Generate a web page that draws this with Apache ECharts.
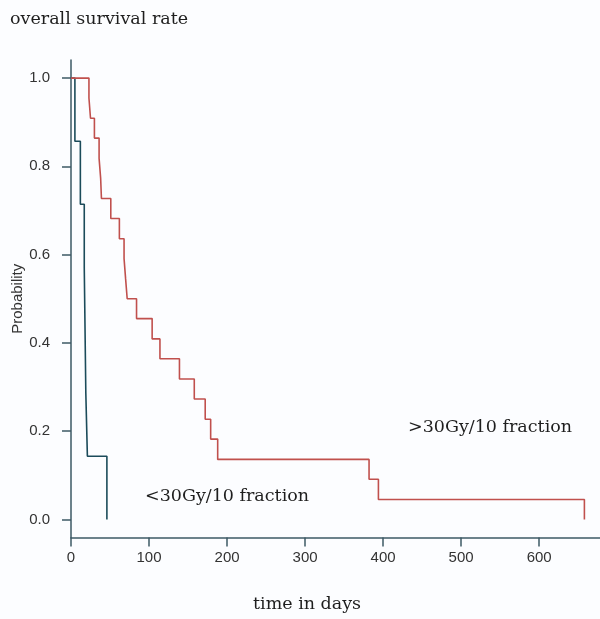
<!DOCTYPE html>
<html lang="en">
<head>
	<meta charset="UTF-8">
	<title>overall survival rate</title>
	<script src="https://cdn.jsdelivr.net/npm/echarts@6/dist/echarts.min.js"></script>
	<style>
		html, body { margin: 0; padding: 0; background: #fcfdff; }
	</style>
</head>
<body>
	<div id="main" style="width: 600px;height:619px;"></div>
	<script type="text/javascript">
		// >30Gy/10 fraction group (red curve)
		var highDays = [0, 23, 25, 30, 36, 38, 39, 51, 62, 68, 70, 72, 84, 104, 114, 139, 158, 172, 179, 188, 382, 394, 658];
		var highSurv = [1, 0.955, 0.909, 0.864, 0.818, 0.773, 0.727, 0.682, 0.636, 0.591, 0.545, 0.5, 0.455, 0.409, 0.364, 0.318, 0.273, 0.227, 0.182, 0.136, 0.091, 0.045, 0];

		// <30Gy/10 fraction group (dark curve)
		var lowDays = [0, 5, 12, 17, 18, 19, 21, 46];
		var lowSurv = [1, 0.857, 0.714, 0.571, 0.429, 0.286, 0.143, 0];

		var xTicks = [0, 100, 200, 300, 400, 500, 600];
		var yTicks = [0, 0.2, 0.4, 0.6, 0.8, 1.0];

		function pairs(xs, ys) {
			var out = [];
			for (var i = 0; i < xs.length; i++) {
				out.push([xs[i], ys[i]]);
			}
			return out;
		}

		var myChart = echarts.init(document.getElementById('main'));

		var axisColor = '#3d5965';
		var serif = '"DejaVu Serif", serif';
		var sans = '"Liberation Sans", Arial, sans-serif';

		var option = {
			backgroundColor: '#fcfdff',
			animation: false,
			title: {
				text: 'overall survival rate',
				left: 5,
				top: 5,
				textStyle: {
					fontFamily: serif,
					fontWeight: 'normal',
					fontSize: 17.5,
					color: '#1e1e1e'
				}
			},
			grid: {
				left: 71,
				right: 0,
				top: 60,
				bottom: 81.5,
				containLabel: false,
				outerBoundsMode: 'none'
			},
			xAxis: {
				type: 'value',
				min: 0,
				max: 678,
				interval: 100,
				splitLine: { show: false },
				axisLine: {
					onZero: false,
					lineStyle: { color: axisColor, width: 1.5 }
				},
				axisTick: {
					customValues: xTicks,
					length: 9,
					lineStyle: { color: axisColor, width: 1.5 }
				},
				axisLabel: {
					customValues: xTicks,
					margin: 13,
					fontFamily: sans,
					fontSize: 15,
					color: '#333'
				}
			},
			yAxis: {
				type: 'value',
				min: -0.041,
				max: 1.041,
				splitLine: { show: false },
				name: 'Probability',
				nameLocation: 'middle',
				nameRotate: 90,
				nameGap: 46,
				nameMoveOverlap: false,
				nameTextStyle: {
					fontFamily: sans,
					fontSize: 15,
					color: '#333'
				},
				axisLine: {
					onZero: false,
					lineStyle: { color: axisColor, width: 1.5 }
				},
				axisTick: {
					customValues: yTicks,
					length: 9,
					lineStyle: { color: axisColor, width: 1.5 }
				},
				axisLabel: {
					customValues: yTicks,
					margin: 21,
					fontFamily: sans,
					fontSize: 15,
					color: '#333',
					formatter: function (v) { return v.toFixed(1); }
				}
			},
			graphic: [
				{
					type: 'text',
					left: 253,
					top: 595,
					style: {
						text: 'time in days',
						font: '17.5px ' + serif,
						fill: '#1e1e1e'
					}
				},
				{
					type: 'text',
					left: 408,
					top: 418,
					style: {
						text: '>30Gy/10 fraction',
						font: '17.5px ' + serif,
						fill: '#1e1e1e'
					}
				},
				{
					type: 'text',
					left: 145,
					top: 487,
					style: {
						text: '<30Gy/10 fraction',
						font: '17.5px ' + serif,
						fill: '#1e1e1e'
					}
				}
			],
			series: [
				{
					name: '<30Gy/10 fraction',
					type: 'line',
					step: 'end',
					symbol: 'none',
					data: pairs(lowDays, lowSurv),
					lineStyle: { color: '#1b4b5a', width: 1.6 }
				},
				{
					name: '>30Gy/10 fraction',
					type: 'line',
					step: 'end',
					symbol: 'none',
					data: pairs(highDays, highSurv),
					lineStyle: { color: '#c0504d', width: 1.6 }
				}
			]
		};

		myChart.setOption(option);
	</script>
</body>
</html>
